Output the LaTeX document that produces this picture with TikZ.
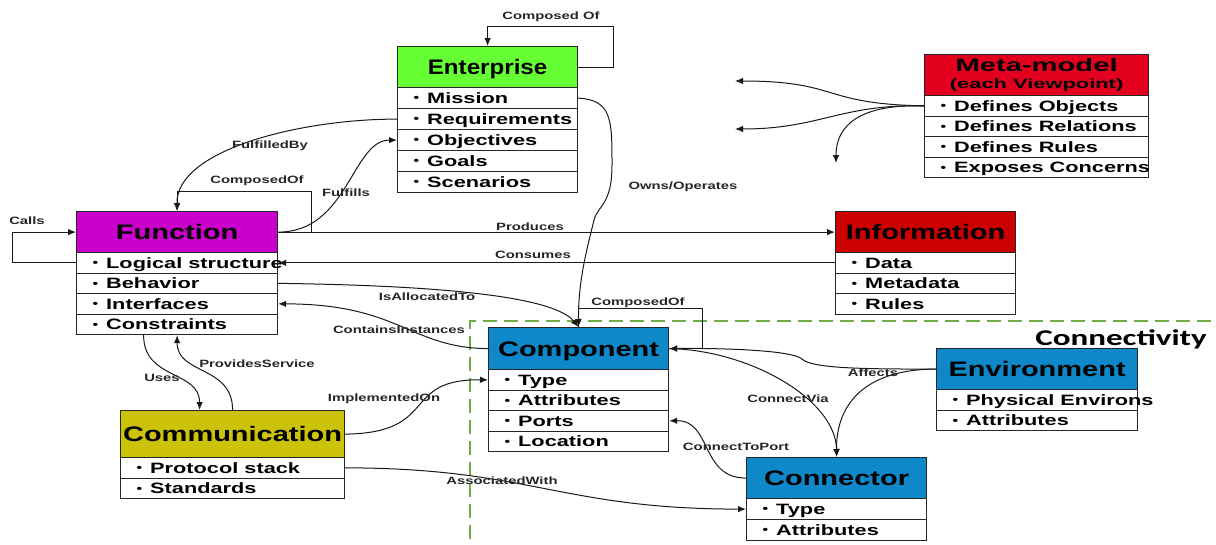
\documentclass[tikz,border=0pt]{standalone}
\usepackage{fontspec}
\usetikzlibrary{arrows.meta}

% Stretched sans faces (wide, bold lettering)
\newfontfamily\hdrfam[FakeStretch=1.38]{Liberation Sans}
\newfontfamily\entfam[FakeStretch=1.15]{Liberation Sans}
\newfontfamily\metafam[FakeStretch=1.62]{Liberation Sans}
\newfontfamily\itmfam[FakeStretch=1.45]{Liberation Sans}
\newfontfamily\lblfam[FakeStretch=1.4]{Liberation Sans}
\newfontfamily\regfam[FakeStretch=1.47]{Carlito}

\newcommand\hdrfnt{\hdrfam\bfseries\fontsize{21pt}{24pt}\selectfont}
\newcommand\entfnt{\entfam\bfseries\fontsize{21pt}{24pt}\selectfont}
\newcommand\metabig{\metafam\bfseries\fontsize{18pt}{18pt}\selectfont}
\newcommand\metasmall{\metafam\bfseries\fontsize{13.5pt}{17pt}\selectfont}
\newcommand\itmfnt{\itmfam\bfseries\fontsize{15pt}{17pt}\selectfont}
\newcommand\lblfnt{\lblfam\bfseries\fontsize{10.6pt}{12pt}\selectfont}
\newcommand\regfnt{\regfam\bfseries\fontsize{22.5pt}{25pt}\selectfont}

% small raised bullet
\newcommand\smallbul{\raisebox{1.6pt}{\fontsize{11pt}{11pt}\selectfont•}}
% one attribute row of a class box: fixed width, bullet text on the left
\newcommand\rowtext[2]{\makebox[#1][l]{\hspace{16pt}\smallbul\hspace{8pt}#2}}

\definecolor{entgreen}{HTML}{66FF33}
\definecolor{funmag}{HTML}{CC00CC}
\definecolor{metared}{HTML}{E3001E}
\definecolor{infred}{HTML}{CC0000}
\definecolor{compblue}{HTML}{0E88C9}
\definecolor{commyel}{HTML}{CCC20A}
\definecolor{regiongreen}{HTML}{70AD47}

\tikzset{
  hdrbase/.style={draw=black!85, line width=1.2pt, inner sep=0pt, anchor=north west},
  hdr/.style={hdrbase, font=\hdrfnt, text height=15pt, text depth=0pt},
  itm/.style={draw=black!85, line width=1.2pt, fill=white, inner sep=0pt,
    anchor=north west, font=\itmfnt, text height=10.7pt, text depth=0pt},
  lbl/.style={font=\lblfnt, text=black!85, inner sep=0pt},
  conn/.style={draw=black!90, line width=1pt, -{Latex[length=8pt,width=6.5pt]}},
  region/.style={draw=regiongreen, line width=2pt, dash pattern=on 14pt off 7pt}
}

\begin{document}
\begin{tikzpicture}[x=1pt,y=-1pt]
\useasboundingbox (0,0) rectangle (1216,544);

% Connectivity region
\draw[region] (470,560) -- (470,321) -- (1230,321);
\node[font=\regfnt, anchor=base east, inner sep=0pt] (conntitle) at (1207,345) {Connectivity};

% Enterprise
\node[hdrbase, fill=entgreen, minimum width=180pt, minimum height=41pt, font=\entfnt,
      text height=15pt, text depth=0pt] (ent) at (397,46) {Enterprise};
\node[itm, minimum height=21pt] (ent1) at (397,87)  {\rowtext{180pt}{Mission}};
\node[itm, minimum height=21pt] (ent2) at (397,108) {\rowtext{180pt}{Requirements}};
\node[itm, minimum height=21pt] (ent3) at (397,129) {\rowtext{180pt}{Objectives}};
\node[itm, minimum height=21pt] (ent4) at (397,150) {\rowtext{180pt}{Goals}};
\node[itm, minimum height=21pt] (ent5) at (397,171) {\rowtext{180pt}{Scenarios}};

% Meta-model
\node[hdrbase, fill=metared, minimum width=224pt, minimum height=41pt, align=center,
      font=\metasmall] (meta) at (924,54) {{\metabig Meta-model}\\(each Viewpoint)};
\node[itm, minimum height=20.5pt] (meta1) at (924,95)    {\rowtext{224pt}{Defines Objects}};
\node[itm, minimum height=20.5pt] (meta2) at (924,115.5) {\rowtext{224pt}{Defines Relations}};
\node[itm, minimum height=20.5pt] (meta3) at (924,136)   {\rowtext{224pt}{Defines Rules}};
\node[itm, minimum height=20.5pt] (meta4) at (924,156.5) {\rowtext{224pt}{Exposes Concerns}};

% Function
\node[hdr, fill=funmag, minimum width=201pt, minimum height=41pt] (fun) at (76,211) {Function};
\node[itm, minimum height=20.5pt] (fun1) at (76,252)   {\rowtext{201pt}{Logical structure}};
\node[itm, minimum height=20.5pt] (fun2) at (76,272.5) {\rowtext{201pt}{Behavior}};
\node[itm, minimum height=20.5pt] (fun3) at (76,293)   {\rowtext{201pt}{Interfaces}};
\node[itm, minimum height=20.5pt] (fun4) at (76,313.5) {\rowtext{201pt}{Constraints}};

% Information
\node[hdr, fill=infred, minimum width=180pt, minimum height=41pt] (inf) at (835,211) {Information};
\node[itm, minimum height=20.5pt] (inf1) at (835,252)   {\rowtext{180pt}{Data}};
\node[itm, minimum height=20.5pt] (inf2) at (835,272.5) {\rowtext{180pt}{Metadata}};
\node[itm, minimum height=20.5pt] (inf3) at (835,293)   {\rowtext{180pt}{Rules}};

% Component
\node[hdr, fill=compblue, minimum width=180pt, minimum height=42pt] (comp) at (488,327) {Component};
\node[itm, minimum height=20.5pt] (comp1) at (488,369)   {\rowtext{180pt}{Type}};
\node[itm, minimum height=20.5pt] (comp2) at (488,389.5) {\rowtext{180pt}{Attributes}};
\node[itm, minimum height=20.5pt] (comp3) at (488,410)   {\rowtext{180pt}{Ports}};
\node[itm, minimum height=20.5pt] (comp4) at (488,430.5) {\rowtext{180pt}{Location}};

% Communication
\node[hdr, fill=commyel, minimum width=224pt, minimum height=47pt] (comm) at (120,410) {Communication};
\node[itm, minimum height=20.5pt] (comm1) at (120,457)   {\rowtext{224pt}{Protocol stack}};
\node[itm, minimum height=20.5pt] (comm2) at (120,477.5) {\rowtext{224pt}{Standards}};

% Environment
\node[hdr, fill=compblue, minimum width=201pt, minimum height=41pt] (env) at (936,348) {Environment};
\node[itm, minimum height=20.5pt] (env1) at (936,389)   {\rowtext{201pt}{Physical Environs}};
\node[itm, minimum height=20.5pt] (env2) at (936,409.5) {\rowtext{201pt}{Attributes}};

% Connector
\node[hdr, fill=compblue, minimum width=180pt, minimum height=41pt] (cntr) at (746,457) {Connector};
\node[itm, minimum height=21pt] (cntr1) at (746,498) {\rowtext{180pt}{Type}};
\node[itm, minimum height=21pt] (cntr2) at (746,519) {\rowtext{180pt}{Attributes}};

% free ends of the meta-model arrows
\coordinate (ma1) at (735,81);
\coordinate (ma2) at (735,129);
\coordinate (ma3) at (836,163);
% bend points of Owns/Operates and Affects
\coordinate (oo1) at (612,165);
\coordinate (oo2) at (594,220);
\coordinate (af1) at (802,359);

% ---- relations ----
\draw[conn] (ent.east) -| ++(35,-40.5) -| (ent.north);
\draw[conn] (ent2.west) .. controls (300,119) and (176,150) .. (fun.north);
\draw[conn] (fun.east) .. controls +(70,0) and +(-45,0) .. (ent3.west);
\draw[conn] (fun.east) -| ++(33,-40.5) -| (fun.north);
\draw[conn] (fun1.west) -- ++(-64,0) |- (fun.west);
\draw[conn] (fun.east) -- (inf.west);
\draw[conn] (inf1.west) -- (fun1.east);
\draw[conn] (ent1.east) .. controls (612,100) and (612,120) .. (oo1)
            .. controls (612,205) and (598,205) .. (oo2)
            .. controls (588,245) and (578,280) .. (comp.north);
\draw[conn] (fun2.east) .. controls (400,285) and (550,292) .. (comp.north);
\draw[conn] (comp.west) .. controls (410,348) and (400,304) .. (fun3.east);
\draw[conn] (comp.north) |- ++(124,-19) |- (comp.east);
\draw[conn] (env.west) .. controls (870,369) and (812,369) .. (af1)
            .. controls (792,350) and (720,348) .. (comp.east);
\draw[conn] (env.west) .. controls (870,369) and (836,400) .. (cntr.north);
\draw[conn] (comp.east) .. controls (750,350) and (836,400) .. (cntr.north);
\draw[conn] (cntr.west) .. controls (700,478) and (712,420) .. (comp3.east);
\draw[conn] (comm1.east) .. controls (530,468) and (560,509) .. (cntr1.west);
\draw[conn] (comm.east) .. controls (440,433) and (400,379) .. (comp1.west);
\draw[conn] ([xshift=-33.5pt]fun4.south) .. controls +(0,45) and +(0,-40) .. ([xshift=-33pt]comm.north);
\draw[conn] (comm.north) .. controls +(0,-45) and +(0,40) .. (fun4.south);
\draw[conn] (meta1.west) .. controls (820,104) and (840,81) .. (ma1);
\draw[conn] (meta1.west) .. controls (840,104) and (820,129) .. (ma2);
\draw[conn] (meta1.west) .. controls (860,104) and (836,125) .. (ma3);

% ---- relation labels ----
\node[lbl] (lcompof)  at (551,17)  {Composed Of};
\node[lbl] (lfulby)   at (270,146) {FulfilledBy};
\node[lbl] (lfuncomp) at (257,181) {ComposedOf};
\node[lbl] (lfulf)    at (346,193) {Fulfills};
\node[lbl] (lcalls)   at (27,221)  {Calls};
\node[lbl] (lprod)    at (530,227) {Produces};
\node[lbl] (lcons)    at (533,255) {Consumes};
\node[lbl] (lowns)    at (683,187) {Owns/Operates};
\node[lbl] (lalloc)   at (427,297) {IsAllocatedTo};
\node[lbl] (lcont)    at (399,330) {ContainsInstances};
\node[lbl] (lcmpcomp) at (638,303) {ComposedOf};
\node[lbl] (laff)     at (873,373) {Affects};
\node[lbl] (lvia)     at (788,399) {ConnectVia};
\node[lbl] (lport)    at (736,447) {ConnectToPort};
\node[lbl] (limpl)    at (384,399) {ImplementedOn};
\node[lbl] (lprov)    at (257,364) {ProvidesService};
\node[lbl] (luses)    at (162,378) {Uses};
\node[lbl] (lassoc)   at (502,481) {AssociatedWith};
\end{tikzpicture}
\end{document}
